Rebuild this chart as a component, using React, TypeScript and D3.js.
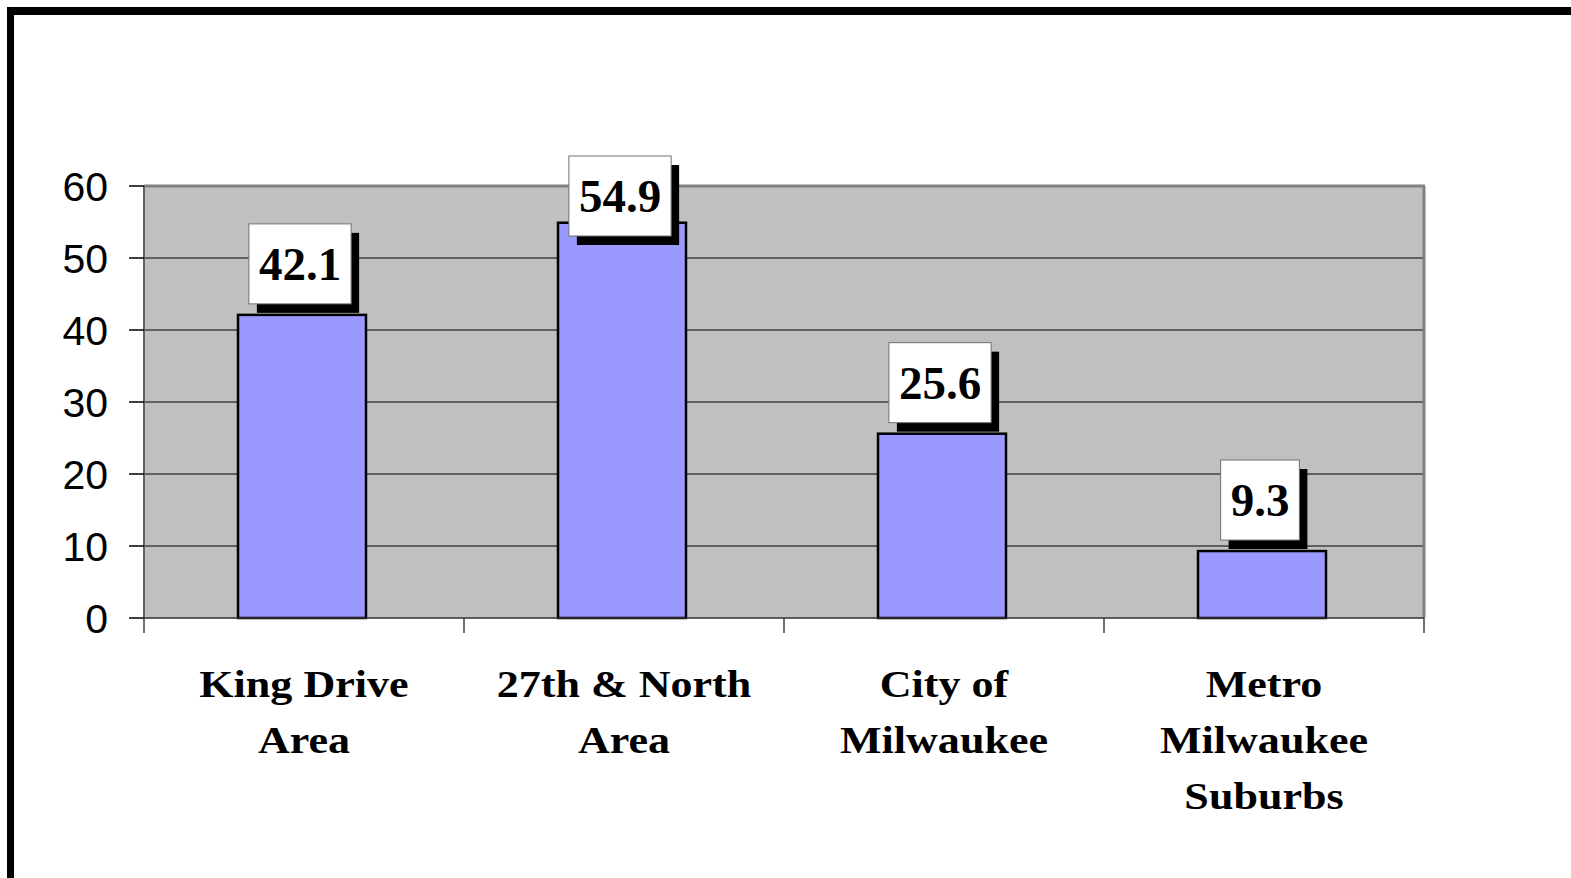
import React from "react";
import * as d3 from "d3";

const categories: string[][] = [
  ["King Drive", "Area"],
  ["27th & North", "Area"],
  ["City of", "Milwaukee"],
  ["Metro", "Milwaukee", "Suburbs"],
];
const values: number[] = [42.1, 54.9, 25.6, 9.3];
const valueLabels: string[] = ["42.1", "54.9", "25.6", "9.3"];
const yTicks: number[] = [0, 10, 20, 30, 40, 50, 60];

const W = 1571;
const H = 878;
const plot = { left: 144, right: 1424, top: 186, bottom: 618 };

export default function App() {
  const keys = categories.map((_, i) => String(i));
  const x = d3
    .scaleBand<string>()
    .domain(keys)
    .range([plot.left - 2, plot.right - 2])
    .paddingInner(0.6)
    .paddingOuter(0.3);
  const y = d3.scaleLinear().domain([0, 60]).range([plot.bottom, plot.top]);
  const step = (plot.right - plot.left) / categories.length;
  const boundaries = d3.range(categories.length + 1).map((i) => plot.left + i * step);

  const valueFont = 47;
  const boxH = 80;
  const boxPad = 10;
  const charW = (s: string) =>
    s.split("").reduce((a, c) => a + (c === "." ? 0.25 : 0.5), 0) * valueFont;

  return (
    <svg
      width={W}
      height={H}
      style={{ position: "absolute", left: 0, top: 0, background: "#fff" }}
    >
      {/* outer frame */}
      <rect x={7} y={7} width={W - 7} height={8} fill="#000" />
      <rect x={7} y={7} width={7} height={H - 7} fill="#000" />

      {/* plot area */}
      <rect
        x={plot.left}
        y={plot.top}
        width={plot.right - plot.left}
        height={plot.bottom - plot.top}
        fill="#C0C0C0"
      />
      {yTicks
        .filter((t) => t > 0 && t < 60)
        .map((t) => (
          <line
            key={"g" + t}
            x1={plot.left}
            x2={plot.right}
            y1={y(t)}
            y2={y(t)}
            stroke="#000"
            strokeWidth={1}
          />
        ))}
      {/* plot border top/right */}
      <line x1={plot.left} x2={plot.right + 1} y1={plot.top} y2={plot.top} stroke="#808080" strokeWidth={3} />
      <line x1={plot.right} x2={plot.right} y1={plot.top} y2={plot.bottom} stroke="#808080" strokeWidth={3} />

      {/* bars */}
      {values.map((v, i) => (
        <rect
          key={"b" + i}
          x={x(String(i))!}
          y={y(v)}
          width={x.bandwidth()}
          height={y(0) - y(v)}
          fill="#9999FF"
          stroke="#000"
          strokeWidth={2.5}
        />
      ))}

      {/* axes */}
      <line x1={plot.left} x2={plot.left} y1={plot.top} y2={plot.bottom} stroke="#606060" strokeWidth={2} />
      <line x1={plot.left} x2={plot.right} y1={plot.bottom} y2={plot.bottom} stroke="#303030" strokeWidth={1.5} />
      {yTicks.map((t) => (
        <g key={"yt" + t}>
          <line x1={plot.left - 15} x2={plot.left} y1={y(t)} y2={y(t)} stroke="#000" strokeWidth={1.5} />
          <text
            x={108}
            y={y(t) + 15}
            textAnchor="end"
            fontFamily="Liberation Sans, Arial, sans-serif"
            fontSize={41}
            fill="#000"
          >
            {t}
          </text>
        </g>
      ))}
      {boundaries.map((bx, i) => (
        <line key={"xt" + i} x1={bx} x2={bx} y1={plot.bottom} y2={plot.bottom + 15} stroke="#404040" strokeWidth={1.5} />
      ))}

      {/* category labels */}
      {categories.map((lines, i) => {
        const cx = x(String(i))! + x.bandwidth() / 2 + 2;
        return (
          <g key={"c" + i} transform={`translate(${cx},0) scale(1.16,1)`}>
            {lines.map((ln, j) => (
              <text
                key={j}
                x={0}
                y={697 + j * 56}
                textAnchor="middle"
                fontFamily="Liberation Serif, Times New Roman, serif"
                fontWeight="bold"
                fontSize={38}
                fill="#000"
              >
                {ln}
              </text>
            ))}
          </g>
        );
      })}

      {/* value labels */}
      {values.map((v, i) => {
        const cx = x(String(i))! + x.bandwidth() / 2 - 2;
        const tw = charW(valueLabels[i]);
        const bw = tw + boxPad * 2;
        const top = Math.max(y(v) - 11 - boxH, 156);
        const bx = cx - bw / 2;
        return (
          <g key={"v" + i}>
            <rect x={bx + 8} y={top + 9} width={bw} height={boxH} fill="#000" />
            <rect x={bx} y={top} width={bw} height={boxH} fill="#fff" stroke="#707070" strokeWidth={1} />
            <text
              x={cx}
              y={top + boxH / 2 + 16}
              textAnchor="middle"
              fontFamily="Liberation Serif, Times New Roman, serif"
              fontWeight="bold"
              fontSize={valueFont}
              fill="#000"
            >
              {valueLabels[i]}
            </text>
          </g>
        );
      })}
    </svg>
  );
}
